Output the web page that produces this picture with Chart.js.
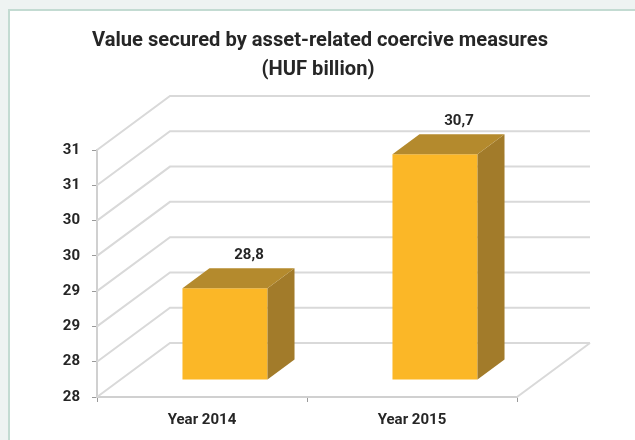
<!DOCTYPE html>
<html><head><meta charset="utf-8">
<script src="https://cdn.jsdelivr.net/npm/chart.js@4/dist/chart.umd.min.js"></script>
<style>
html,body{margin:0;padding:0;width:635px;height:440px;overflow:hidden;background:#eef3f2;}
#panel{position:absolute;left:8px;top:9px;right:0;bottom:0;background:#fff;border-left:2px solid #c3dbd2;border-top:2px solid #c3dbd2;}
#c{position:absolute;left:0;top:0;}
</style></head><body>
<div id="panel"></div>
<canvas id="c" width="635" height="440"></canvas>
<script>
const titleLines = ["Value secured by asset-related coercive measures", "(HUF billion)"];
const categories = ["Year 2014", "Year 2015"];
const values = [28.8, 30.7];
const valueLabels = ["28,8", "30,7"];
const tickValues = [27.5, 28, 28.5, 29, 29.5, 30, 30.5, 31];
const tickLabels = ["28", "28", "29", "29", "30", "30", "31", "31"];
const yMin = 27.5, yMax = 31;

const DEPTH = {dx: 73, dy: -54};
const BAR_FRONT = {dx: 23, dy: -17};
const BAR_DEPTH = {dx: 27, dy: -20};
const FRONT = '#fbb727', TOP = '#b48a2d', SIDE = '#a27b2a';
const TEXT = '#262626';

const box3d = {
  id: 'box3d',
  beforeDatasetsDraw(chart) {
    const ctx = chart.ctx, a = chart.chartArea, y = chart.scales.y;
    ctx.save();
    ctx.strokeStyle = '#d9d9d9';
    ctx.lineWidth = 2;
    tickValues.forEach(v => {
      const py = y.getPixelForValue(v);
      ctx.beginPath();
      ctx.moveTo(a.left, py);
      ctx.lineTo(a.left + DEPTH.dx, py + DEPTH.dy);
      ctx.lineTo(a.right + DEPTH.dx, py + DEPTH.dy);
      ctx.stroke();
    });
    ctx.beginPath();
    ctx.moveTo(a.right, a.bottom);
    ctx.lineTo(a.right + DEPTH.dx, a.bottom + DEPTH.dy);
    ctx.stroke();
    ctx.restore();
    ctx.save();
    ctx.translate(BAR_FRONT.dx, BAR_FRONT.dy);
  },
  afterDatasetsDraw(chart) {
    const ctx = chart.ctx;
    ctx.restore();
    const meta = chart.getDatasetMeta(0);
    meta.data.forEach((bar, i) => {
      const p = bar.getProps(['x', 'y', 'base', 'width'], true);
      const L = p.x - p.width / 2 + BAR_FRONT.dx;
      const R = p.x + p.width / 2 + BAR_FRONT.dx;
      const T = p.y + BAR_FRONT.dy;
      const B = Math.min(p.base, chart.chartArea.bottom) + BAR_FRONT.dy;
      ctx.save();
      ctx.fillStyle = SIDE;
      ctx.beginPath();
      ctx.moveTo(R, T); ctx.lineTo(R + BAR_DEPTH.dx, T + BAR_DEPTH.dy);
      ctx.lineTo(R + BAR_DEPTH.dx, B + BAR_DEPTH.dy); ctx.lineTo(R, B);
      ctx.closePath(); ctx.fill();
      ctx.fillStyle = TOP;
      ctx.beginPath();
      ctx.moveTo(L, T); ctx.lineTo(L + BAR_DEPTH.dx, T + BAR_DEPTH.dy);
      ctx.lineTo(R + BAR_DEPTH.dx, T + BAR_DEPTH.dy); ctx.lineTo(R, T);
      ctx.closePath(); ctx.fill();
      ctx.fillStyle = TEXT;
      ctx.font = 'bold 15px Roboto, "Liberation Sans", sans-serif';
      ctx.textAlign = 'center';
      ctx.textBaseline = 'middle';
      ctx.fillText(valueLabels[i], p.x + 47, p.y - 50);
      ctx.restore();
    });
  },
  afterDraw(chart) {
    const ctx = chart.ctx;
    const widths = [456, 128];
    const centers = [320, 318];
    const bases = [46, 75];
    ctx.save();
    ctx.fillStyle = TEXT;
    ctx.font = 'bold 21px "Liberation Sans Narrow", Roboto, sans-serif';
    ctx.textAlign = 'center';
    ctx.textBaseline = 'alphabetic';
    const w0 = ctx.measureText(titleLines[0]).width;
    const k = Math.min(1, widths[0] / w0);
    titleLines.forEach((t, i) => {
      ctx.save();
      ctx.translate(centers[i], bases[i]);
      ctx.scale(k, 1);
      ctx.fillText(t, 0, 0);
      ctx.restore();
    });
    ctx.restore();
  }
};

new Chart(document.getElementById('c'), {
  type: 'bar',
  data: {
    labels: categories,
    datasets: [{
      data: values,
      base: yMin,
      backgroundColor: FRONT,
      borderWidth: 0,
      categoryPercentage: 1,
      barPercentage: 0.405
    }]
  },
  options: {
    responsive: false,
    animation: false,
    layout: {padding: {top: 150, right: 118, bottom: 0, left: 0}},
    plugins: {legend: {display: false}, title: {display: false}, tooltip: {enabled: false}},
    scales: {
      y: {
        min: yMin, max: yMax,
        afterBuildTicks: s => { s.ticks = tickValues.map(v => ({value: v})); },
        afterFit: s => { s.width = 97; },
        ticks: {
          callback: (v, i) => tickLabels[i],
          color: TEXT, padding: 12,
          font: {family: 'Roboto, "Liberation Sans", sans-serif', size: 15, weight: 'bold'}
        },
        grid: {drawOnChartArea: false, tickLength: 5, color: '#9a9a9a'},
        border: {color: '#d0d0d0', width: 2}
      },
      x: {
        afterFit: s => { s.height = 43; },
        ticks: {
          color: TEXT, padding: 9,
          font: {family: 'Roboto, "Liberation Sans", sans-serif', size: 15, weight: 'bold'}
        },
        grid: {drawOnChartArea: false, offset: true, tickLength: 5, color: '#9a9a9a'},
        border: {color: '#d0d0d0', width: 2}
      }
    }
  },
  plugins: [box3d]
});
</script>
</body></html>
